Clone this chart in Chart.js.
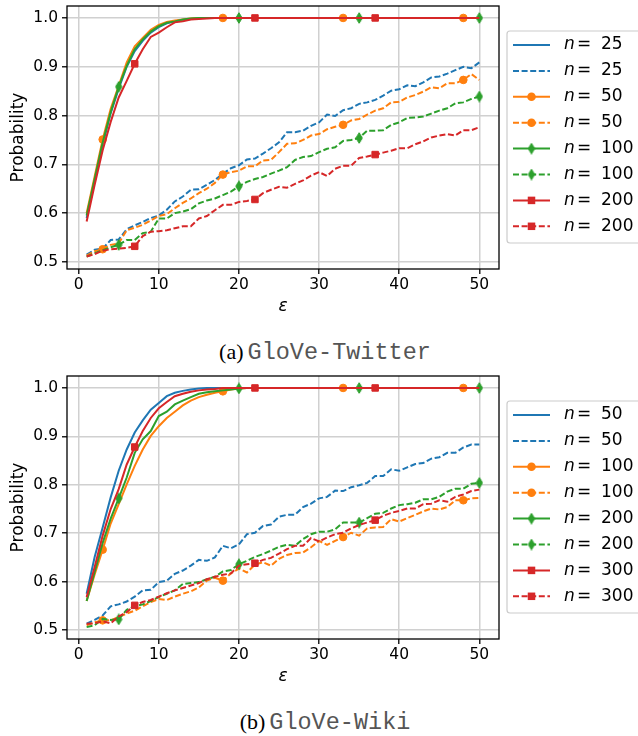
<!DOCTYPE html>
<html>
<head>
<meta charset="utf-8">
<script src="https://cdn.jsdelivr.net/npm/chart.js@4.4.1/dist/chart.umd.min.js"></script>
<style>
    body { margin: 0; background: #fff; width: 638px; height: 736px; overflow: hidden; position: relative; }
    .plot { position: absolute; left: 0; width: 638px; height: 320px; }
    .cap { position: absolute; left: 0; width: 650px; text-align: center; line-height: 1; white-space: nowrap; }
    .cap .l { font-family: "Liberation Serif"; font-size: 22px; }
    .cap .m { font-family: "Liberation Mono"; font-size: 23.5px; color: #555; }
</style>
</head>
<body>
<div class="plot" style="top:0"><canvas id="grafTwitter"></canvas></div>
<div class="cap" style="top:341px"><span class="l">(a)</span> <span class="m">GloVe-Twitter</span></div>
<div class="plot" style="top:370px"><canvas id="grafWiki"></canvas></div>
<div class="cap" style="top:711px"><span class="l">(b)</span> <span class="m">GloVe-Wiki</span></div>
<script>
const eps = [1, 2, 3, 4, 5, 6, 7, 8, 9, 10, 11, 12, 13, 14, 15, 16, 17, 18, 19, 20, 21, 22, 23, 24, 25,
    26, 27, 28, 29, 30, 31, 32, 33, 34, 35, 36, 37, 38, 39, 40, 41, 42, 43, 44, 45, 46, 47, 48, 49, 50];
const xTicks = [0, 10, 20, 30, 40, 50];
const yTicks = [0.5, 0.6, 0.7, 0.8, 0.9, 1.0];

// GloVe-Twitter
const twLabels = ['25', '25', '50', '50', '100', '100', '200', '200'];
const twSolid25 = [0.59, 0.665, 0.74, 0.805, 0.855, 0.9, 0.932, 0.953, 0.97, 0.981, 0.989, 0.993, 0.996, 0.998, 1.0,
    1, 1, 1, 1, 1, 1, 1, 1, 1, 1, 1, 1, 1, 1, 1, 1, 1, 1, 1, 1, 1, 1, 1, 1, 1, 1, 1, 1, 1, 1, 1, 1, 1, 1, 1];
const twDash25 = [0.515, 0.525, 0.527, 0.545, 0.546, 0.567, 0.575, 0.582, 0.59, 0.595, 0.607, 0.624, 0.634, 0.648, 0.649,
    0.658, 0.668, 0.681, 0.692, 0.698, 0.71, 0.712, 0.722, 0.733, 0.745, 0.766, 0.766, 0.769, 0.779, 0.786, 0.802, 0.799,
    0.811, 0.815, 0.824, 0.827, 0.832, 0.841, 0.851, 0.854, 0.862, 0.86, 0.868, 0.878, 0.88, 0.886, 0.893, 0.9, 0.897, 0.909];
const twSolid50 = [0.6, 0.675, 0.751, 0.814, 0.861, 0.909, 0.942, 0.959, 0.976, 0.986, 0.992, 0.995, 0.997, 0.999, 1.0,
    1, 1, 1, 1, 1, 1, 1, 1, 1, 1, 1, 1, 1, 1, 1, 1, 1, 1, 1, 1, 1, 1, 1, 1, 1, 1, 1, 1, 1, 1, 1, 1, 1, 1, 1];
const twDash50 = [0.513, 0.522, 0.526, 0.535, 0.538, 0.565, 0.57, 0.576, 0.585, 0.594, 0.598, 0.61, 0.621, 0.63, 0.641,
    0.65, 0.662, 0.679, 0.684, 0.687, 0.696, 0.696, 0.708, 0.709, 0.725, 0.742, 0.743, 0.75, 0.759, 0.762, 0.772, 0.777,
    0.781, 0.79, 0.793, 0.802, 0.81, 0.815, 0.827, 0.828, 0.837, 0.842, 0.849, 0.858, 0.856, 0.866, 0.866, 0.873, 0.885, 0.873];
const twSolid100 = [0.595, 0.67, 0.745, 0.807, 0.859, 0.902, 0.936, 0.956, 0.972, 0.983, 0.99, 0.993, 0.997, 0.999, 1.0,
    1, 1, 1, 1, 1, 1, 1, 1, 1, 1, 1, 1, 1, 1, 1, 1, 1, 1, 1, 1, 1, 1, 1, 1, 1, 1, 1, 1, 1, 1, 1, 1, 1, 1, 1];
const twDash100 = [0.511, 0.518, 0.524, 0.53, 0.535, 0.545, 0.545, 0.559, 0.562, 0.589, 0.589, 0.6, 0.603, 0.608, 0.62,
    0.626, 0.63, 0.637, 0.644, 0.655, 0.664, 0.67, 0.674, 0.681, 0.687, 0.694, 0.709, 0.715, 0.717, 0.725, 0.732, 0.735,
    0.748, 0.75, 0.754, 0.769, 0.769, 0.77, 0.781, 0.786, 0.795, 0.796, 0.798, 0.804, 0.81, 0.815, 0.825, 0.827, 0.834, 0.839];
const twSolid200 = [0.583, 0.658, 0.729, 0.787, 0.837, 0.871, 0.906, 0.936, 0.961, 0.97, 0.981, 0.991, 0.993, 0.997, 0.998,
    0.999, 1, 1, 1, 1, 1, 1, 1, 1, 1, 1, 1, 1, 1, 1, 1, 1, 1, 1, 1, 1, 1, 1, 1, 1, 1, 1, 1, 1, 1, 1, 1, 1, 1, 1];
const twDash200 = [0.511, 0.516, 0.523, 0.526, 0.527, 0.529, 0.532, 0.553, 0.562, 0.563, 0.565, 0.569, 0.573, 0.573, 0.589,
    0.594, 0.606, 0.617, 0.617, 0.623, 0.625, 0.628, 0.641, 0.648, 0.654, 0.652, 0.66, 0.667, 0.677, 0.684, 0.676, 0.691,
    0.697, 0.697, 0.713, 0.716, 0.72, 0.724, 0.728, 0.733, 0.733, 0.741, 0.747, 0.755, 0.759, 0.762, 0.759, 0.77, 0.77, 0.776];

// GloVe-Wiki
const wkLabels = ['50', '50', '100', '100', '200', '200', '300', '300'];
const wkSolid50 = [0.575, 0.651, 0.712, 0.774, 0.829, 0.873, 0.908, 0.933, 0.955, 0.969, 0.983, 0.99, 0.994, 0.997, 0.999,
    1, 1, 1, 1, 1, 1, 1, 1, 1, 1, 1, 1, 1, 1, 1, 1, 1, 1, 1, 1, 1, 1, 1, 1, 1, 1, 1, 1, 1, 1, 1, 1, 1, 1, 1];
const wkDash50 = [0.513, 0.521, 0.53, 0.549, 0.553, 0.559, 0.569, 0.582, 0.583, 0.599, 0.602, 0.616, 0.623, 0.633, 0.645,
    0.643, 0.65, 0.674, 0.669, 0.677, 0.698, 0.701, 0.715, 0.718, 0.734, 0.738, 0.738, 0.754, 0.761, 0.772, 0.775, 0.788,
    0.787, 0.795, 0.799, 0.804, 0.818, 0.818, 0.832, 0.829, 0.836, 0.843, 0.845, 0.854, 0.857, 0.866, 0.866, 0.877, 0.883, 0.883];
const wkSolid100 = [0.56, 0.615, 0.666, 0.72, 0.76, 0.801, 0.839, 0.873, 0.901, 0.921, 0.938, 0.951, 0.964, 0.974, 0.981,
    0.986, 0.99, 0.993, 0.997, 0.999, 1, 1, 1, 1, 1, 1, 1, 1, 1, 1, 1, 1, 1, 1, 1, 1, 1, 1, 1, 1, 1, 1, 1, 1, 1, 1, 1, 1, 1, 1];
const wkDash100 = [0.51, 0.516, 0.52, 0.52, 0.527, 0.534, 0.54, 0.549, 0.558, 0.564, 0.562, 0.569, 0.575, 0.58, 0.588,
    0.602, 0.608, 0.602, 0.617, 0.627, 0.619, 0.635, 0.64, 0.633, 0.647, 0.655, 0.659, 0.66, 0.671, 0.684, 0.676, 0.684,
    0.692, 0.701, 0.695, 0.71, 0.712, 0.713, 0.729, 0.724, 0.731, 0.738, 0.745, 0.751, 0.749, 0.754, 0.768, 0.768, 0.772, 0.773];
const wkSolid200 = [0.56, 0.62, 0.68, 0.73, 0.772, 0.815, 0.866, 0.894, 0.911, 0.942, 0.951, 0.966, 0.974, 0.981, 0.988,
    0.991, 0.993, 0.995, 0.997, 0.999, 1, 1, 1, 1, 1, 1, 1, 1, 1, 1, 1, 1, 1, 1, 1, 1, 1, 1, 1, 1, 1, 1, 1, 1, 1, 1, 1, 1, 1, 1];
const wkDash200 = [0.506, 0.51, 0.523, 0.521, 0.522, 0.542, 0.549, 0.553, 0.56, 0.568, 0.575, 0.582, 0.595, 0.597, 0.599,
    0.605, 0.61, 0.621, 0.624, 0.636, 0.643, 0.651, 0.657, 0.664, 0.672, 0.676, 0.674, 0.688, 0.698, 0.703, 0.703, 0.708,
    0.722, 0.722, 0.722, 0.731, 0.74, 0.742, 0.751, 0.758, 0.76, 0.763, 0.77, 0.77, 0.775, 0.786, 0.792, 0.792, 0.802, 0.804];
const wkSolid300 = [0.568, 0.63, 0.695, 0.75, 0.791, 0.842, 0.878, 0.911, 0.938, 0.958, 0.971, 0.983, 0.988, 0.992, 0.995,
    0.997, 0.998, 1, 1, 1, 1, 1, 1, 1, 1, 1, 1, 1, 1, 1, 1, 1, 1, 1, 1, 1, 1, 1, 1, 1, 1, 1, 1, 1, 1, 1, 1, 1, 1, 1];
const wkDash300 = [0.513, 0.514, 0.518, 0.514, 0.528, 0.537, 0.551, 0.558, 0.562, 0.569, 0.576, 0.582, 0.587, 0.592, 0.597,
    0.605, 0.61, 0.614, 0.617, 0.633, 0.636, 0.638, 0.645, 0.649, 0.658, 0.667, 0.674, 0.674, 0.69, 0.683, 0.691, 0.698,
    0.701, 0.71, 0.717, 0.722, 0.727, 0.736, 0.742, 0.746, 0.751, 0.751, 0.76, 0.761, 0.768, 0.765, 0.775, 0.78, 0.787, 0.79];

// indexy bodů, kde jsou značky (markevery)
const markIdxOrange = [2, 17, 32, 47];
const markIdxGreen = [4, 19, 34, 49];
const markIdxRed = [6, 21, 36];

const barvy = ['#1f77b4', '#ff7f0e', '#2ca02c', '#d62728'];

// tenký kosočtverec jako obrázek pro pointStyle
function udelejDiamant(barva) {
    const c = document.createElement('canvas');
    c.width = 8; c.height = 12;
    const g = c.getContext('2d');
    g.fillStyle = barva;
    g.strokeStyle = barva;
    g.lineWidth = 1;
    g.beginPath();
    g.moveTo(4, 0.7); g.lineTo(7.2, 6); g.lineTo(4, 11.3); g.lineTo(0.8, 6);
    g.closePath();
    g.fill(); g.stroke();
    return c;
}

const znacky = [
    null,
    { style: 'circle', r: 3.8, idx: markIdxOrange },
    { style: udelejDiamant(barvy[2]), r: 5, idx: markIdxGreen },
    { style: 'rect', r: 4.6, idx: markIdxRed }
];

const ramecekALegenda = {
    id: 'ramecekALegenda',
    afterDatasetsDraw(chart) {
        const { ctx, chartArea: a } = chart;
        ctx.save();
        ctx.strokeStyle = '#000';
        ctx.lineWidth = 1.3;
        ctx.strokeRect(a.left, a.top, a.right - a.left, a.bottom - a.top);
        ctx.restore();
    },
    afterDraw(chart, args, opts) {
        const ctx = chart.ctx;
        const x0 = 507, y0 = 31, w = 140, h = 212;
        ctx.save();
        ctx.fillStyle = 'rgba(255,255,255,0.8)';
        ctx.strokeStyle = '#cccccc';
        ctx.lineWidth = 1.2;
        ctx.beginPath();
        ctx.roundRect(x0, y0, w, h, 3);
        ctx.fill();
        ctx.stroke();

        chart.data.datasets.forEach((ds, i) => {
            const y = 45 + i * 25.9;
            const sk = Math.floor(i / 2);
            ctx.strokeStyle = ds.borderColor;
            ctx.lineWidth = 2;
            ctx.setLineDash(i % 2 ? [6, 2.6] : []);
            ctx.beginPath();
            ctx.moveTo(513, y);
            ctx.lineTo(550, y);
            ctx.stroke();
            ctx.setLineDash([]);
            const z = znacky[sk];
            if (z) {
                ctx.fillStyle = ds.borderColor;
                if (z.style === 'circle') {
                    ctx.beginPath();
                    ctx.arc(531.5, y, z.r + 0.5, 0, Math.PI * 2);
                    ctx.fill();
                } else if (z.style === 'rect') {
                    const s = z.r * Math.SQRT2 + 1;
                    ctx.fillRect(531.5 - s / 2, y - s / 2, s, s);
                } else {
                    ctx.drawImage(z.style, 531.5 - 4, y - 6);
                }
            }
            ctx.fillStyle = '#000';
            ctx.textBaseline = 'middle';
            ctx.font = 'italic 17px "DejaVu Sans"';
            ctx.fillText('n', 564, y);
            ctx.font = '17px "DejaVu Sans"';
            ctx.fillText('=', 577, y);
            ctx.fillText(opts.labels[i], 601, y);
        });
        ctx.restore();
    }
};

function vytvorGraf(canvasId, serie, popisky, yMin, yMax) {
    const datasets = serie.map((hodnoty, i) => {
        const sk = Math.floor(i / 2);
        const z = znacky[sk];
        return {
            label: 'n = ' + popisky[i],
            data: eps.map((e, j) => ({ x: e, y: hodnoty[j] })),
            borderColor: barvy[sk],
            backgroundColor: barvy[sk],
            borderWidth: 2,
            borderDash: i % 2 ? [6, 2.6] : [],
            pointStyle: z ? z.style : 'circle',
            pointRadius: ctx => (z && z.idx.includes(ctx.dataIndex)) ? z.r : 0,
            pointBackgroundColor: barvy[sk],
            pointBorderColor: barvy[sk],
            pointBorderWidth: 1,
            tension: 0,
            order: 8 - i
        };
    });

    return new Chart(document.getElementById(canvasId), {
        type: 'line',
        data: { datasets: datasets },
        plugins: [ramecekALegenda],
        options: {
            responsive: true,
            maintainAspectRatio: false,
            animation: false,
            events: [],
            layout: { padding: { top: 4, right: 139, left: 0, bottom: 0 } },
            plugins: {
                legend: { display: false },
                tooltip: { enabled: false },
                ramecekALegenda: { labels: popisky }
            },
            scales: {
                x: {
                    type: 'linear',
                    min: -1.45,
                    max: 52.45,
                    afterBuildTicks: s => { s.ticks = xTicks.map(v => ({ value: v })); },
                    afterFit: s => { s.height = 51; s.paddingLeft = 0; s.paddingRight = 0; },
                    border: { display: false },
                    grid: { color: '#d0d0d0', lineWidth: 1.5, tickColor: '#222', tickLength: 5 },
                    ticks: {
                        color: '#000', padding: 2, maxRotation: 0, autoSkip: false,
                        font: { family: 'DejaVu Sans', size: 15.5 }
                    },
                    title: {
                        display: true, text: 'ε', color: '#000',
                        font: { family: 'DejaVu Sans', style: 'italic', size: 17 },
                        padding: { top: 0, bottom: 3 }
                    }
                },
                y: {
                    min: yMin,
                    max: yMax,
                    afterBuildTicks: s => { s.ticks = yTicks.map(v => ({ value: v })); },
                    afterFit: s => { s.width = 67; s.paddingTop = 0; s.paddingBottom = 0; },
                    border: { display: false },
                    grid: { color: '#d0d0d0', lineWidth: 1.5, tickColor: '#222', tickLength: 5 },
                    ticks: {
                        color: '#000', padding: 4, autoSkip: false,
                        font: { family: 'DejaVu Sans', size: 15.5 },
                        callback: v => v.toFixed(1)
                    },
                    title: {
                        display: true, text: 'Probability', color: '#000',
                        font: { family: 'DejaVu Sans', size: 17 },
                        padding: { top: 8, bottom: 0 }
                    }
                }
            }
        }
    });
}

vytvorGraf('grafTwitter',
    [twSolid25, twDash25, twSolid50, twDash50, twSolid100, twDash100, twSolid200, twDash200],
    twLabels, 0.4855, 1.0245);
vytvorGraf('grafWiki',
    [wkSolid50, wkDash50, wkSolid100, wkDash100, wkSolid200, wkDash200, wkSolid300, wkDash300],
    wkLabels, 0.4815, 1.0247);
</script>
</body>
</html>
